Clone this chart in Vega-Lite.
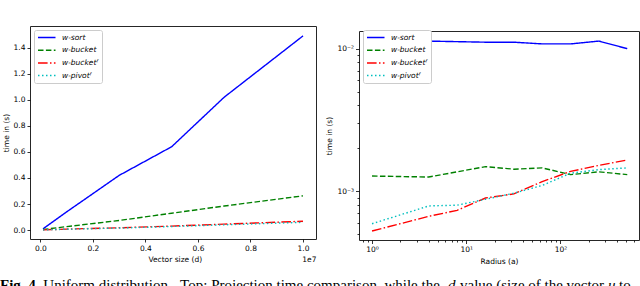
{
  "$schema": "https://vega.github.io/schema/vega-lite/v6.json",
  "padding": {"left": 0, "top": 25, "right": 0, "bottom": 0},
  "background": "#ffffff",
  "datasets": {
    "left": [
      {"d": 100000, "method": "w-sort", "time": 0.01},
      {"d": 1000000, "method": "w-sort", "time": 0.14},
      {"d": 3000000, "method": "w-sort", "time": 0.42},
      {"d": 5000000, "method": "w-sort", "time": 0.64},
      {"d": 7000000, "method": "w-sort", "time": 1.02},
      {"d": 10000000, "method": "w-sort", "time": 1.49},
      {"d": 100000, "method": "w-bucket", "time": 0.005},
      {"d": 1000000, "method": "w-bucket", "time": 0.027},
      {"d": 3000000, "method": "w-bucket", "time": 0.074},
      {"d": 5000000, "method": "w-bucket", "time": 0.13},
      {"d": 7000000, "method": "w-bucket", "time": 0.185},
      {"d": 10000000, "method": "w-bucket", "time": 0.263},
      {"d": 100000, "method": "w-bucketᶠ", "time": 0.002},
      {"d": 1000000, "method": "w-bucketᶠ", "time": 0.008},
      {"d": 3000000, "method": "w-bucketᶠ", "time": 0.018},
      {"d": 5000000, "method": "w-bucketᶠ", "time": 0.031},
      {"d": 7000000, "method": "w-bucketᶠ", "time": 0.046},
      {"d": 10000000, "method": "w-bucketᶠ", "time": 0.068},
      {"d": 100000, "method": "w-pivotᶠ", "time": 0.002},
      {"d": 1000000, "method": "w-pivotᶠ", "time": 0.007},
      {"d": 3000000, "method": "w-pivotᶠ", "time": 0.016},
      {"d": 5000000, "method": "w-pivotᶠ", "time": 0.028},
      {"d": 7000000, "method": "w-pivotᶠ", "time": 0.041},
      {"d": 10000000, "method": "w-pivotᶠ", "time": 0.060}
    ],
    "right": [
      {"a": 1, "method": "w-sort", "time": 0.0107},
      {"a": 2, "method": "w-sort", "time": 0.0113},
      {"a": 4, "method": "w-sort", "time": 0.0113},
      {"a": 8, "method": "w-sort", "time": 0.0112},
      {"a": 16, "method": "w-sort", "time": 0.0111},
      {"a": 32, "method": "w-sort", "time": 0.0111},
      {"a": 64, "method": "w-sort", "time": 0.0108},
      {"a": 128, "method": "w-sort", "time": 0.0108},
      {"a": 256, "method": "w-sort", "time": 0.0113},
      {"a": 512, "method": "w-sort", "time": 0.0100},
      {"a": 1, "method": "w-bucket", "time": 0.00128},
      {"a": 4, "method": "w-bucket", "time": 0.00126},
      {"a": 16, "method": "w-bucket", "time": 0.00149},
      {"a": 32, "method": "w-bucket", "time": 0.00143},
      {"a": 64, "method": "w-bucket", "time": 0.00146},
      {"a": 128, "method": "w-bucket", "time": 0.00131},
      {"a": 256, "method": "w-bucket", "time": 0.00137},
      {"a": 512, "method": "w-bucket", "time": 0.00131},
      {"a": 1, "method": "w-bucketᶠ", "time": 0.000527},
      {"a": 4, "method": "w-bucketᶠ", "time": 0.000668},
      {"a": 8, "method": "w-bucketᶠ", "time": 0.000736},
      {"a": 16, "method": "w-bucketᶠ", "time": 0.000898},
      {"a": 32, "method": "w-bucketᶠ", "time": 0.00096},
      {"a": 64, "method": "w-bucketᶠ", "time": 0.00117},
      {"a": 128, "method": "w-bucketᶠ", "time": 0.00138},
      {"a": 256, "method": "w-bucketᶠ", "time": 0.00152},
      {"a": 512, "method": "w-bucketᶠ", "time": 0.00166},
      {"a": 1, "method": "w-pivotᶠ", "time": 0.000593},
      {"a": 4, "method": "w-pivotᶠ", "time": 0.00079},
      {"a": 8, "method": "w-pivotᶠ", "time": 0.0008},
      {"a": 16, "method": "w-pivotᶠ", "time": 0.00088},
      {"a": 32, "method": "w-pivotᶠ", "time": 0.00097},
      {"a": 64, "method": "w-pivotᶠ", "time": 0.0011},
      {"a": 128, "method": "w-pivotᶠ", "time": 0.00134},
      {"a": 256, "method": "w-pivotᶠ", "time": 0.00142},
      {"a": 512, "method": "w-pivotᶠ", "time": 0.00146}
    ],
    "caption": [
      {"part": 1, "seg": "Fig. 4."},
      {"part": 2, "seg": "Uniform distribution - Top: Projection time comparison, while the"},
      {"part": 3, "seg": "d"},
      {"part": 4, "seg": "value (size of the vector"},
      {"part": 5, "seg": "u"},
      {"part": 6, "seg": "to"}
    ]
  },
  "config": {
    "font": "DejaVu Sans",
    "view": {"stroke": "#262626", "strokeWidth": 1},
    "axis": {
      "domain": false, "grid": false,
      "labelFont": "DejaVu Sans", "labelFontSize": 7.5, "labelColor": "#000000",
      "titleFont": "DejaVu Sans", "titleFontSize": 7.5, "titleFontWeight": "normal", "titleColor": "#000000",
      "tickColor": "#000000", "tickSize": 3, "tickWidth": 0.8, "labelPadding": 2
    },
    "legend": {
      "orient": "top-left", "offset": 4, "padding": 3,
      "fillColor": "#ffffff", "strokeColor": "#cccccc", "cornerRadius": 2,
      "labelFont": "DejaVu Sans", "labelFontStyle": "italic", "labelFontSize": 7.5, "labelColor": "#000000",
      "symbolType": "M-1,0H4", "symbolSize": 49, "symbolStrokeWidth": 1.5,
      "labelOffset": 16, "rowPadding": 4.7, "titlePadding": 0
    }
  },
  "spacing": 12,
  "vconcat": [
    {
      "spacing": 7,
      "resolve": {
        "scale": {"color": "independent", "strokeDash": "independent"},
        "legend": {"color": "independent", "strokeDash": "independent"}
      },
      "hconcat": [
        {
          "width": 286, "height": 213,
          "data": {"name": "left"},
          "mark": {"type": "line", "strokeWidth": 1.4},
          "encoding": {
            "x": {
              "field": "d", "type": "quantitative",
              "scale": {"domain": [-395000, 10495000], "nice": false, "zero": false},
              "axis": {
                "values": [0, 2000000, 4000000, 6000000, 8000000, 10000000],
                "labelExpr": "format(datum.value / 10000000, '.1f')",
                "title": "Vector size (d)\u00a0\u00a0\u00a0\u00a0\u00a0\u00a0\u00a0\u00a0\u00a0\u00a0\u00a0\u00a0\u00a0\u00a0\u00a0\u00a0\u00a0\u00a0\u00a0\u00a0\u00a0\u00a0\u00a0\u00a0\u00a0\u00a0\u00a0\u00a0\u00a0\u00a0\u00a0\u00a0\u00a0\u00a0\u00a0\u00a0\u00a0\u00a0\u00a0\u00a0\u00a0\u00a01e7",
                "titleAnchor": "end", "titlePadding": 4
              }
            },
            "y": {
              "field": "time", "type": "quantitative",
              "scale": {"domain": [-0.068, 1.566], "nice": false, "zero": false},
              "axis": {
                "values": [0, 0.2, 0.4, 0.6, 0.8, 1.0, 1.2, 1.4],
                "format": ".1f", "title": "time in (s)",
                "minExtent": 18, "maxExtent": 18, "titlePadding": 2
              }
            },
            "color": {
              "field": "method", "type": "nominal",
              "scale": {"domain": ["w-sort", "w-bucket", "w-bucketᶠ", "w-pivotᶠ"], "range": ["#0000ff", "#008000", "#ff0000", "#00bfbf"]},
              "legend": {"title": null}
            },
            "strokeDash": {
              "field": "method", "type": "nominal",
              "scale": {"domain": ["w-sort", "w-bucket", "w-bucketᶠ", "w-pivotᶠ"], "range": [[1, 0], [5.5, 2.4], [9.6, 2.4, 1.5, 2.4], [1.5, 2.5]]},
              "legend": {"title": null}
            }
          }
        },
        {
          "spacing": 3,
          "vconcat": [
            {
              "width": 280, "height": 1,
              "view": {"stroke": null},
              "data": {"values": []},
              "mark": "point"
            },
            {
              "width": 280, "height": 209,
              "data": {"name": "right"},
              "mark": {"type": "line", "strokeWidth": 1.4},
              "encoding": {
                "x": {
                  "field": "a", "type": "quantitative",
                  "scale": {"type": "log", "domain": [0.727, 682], "nice": false},
                  "axis": {
                    "values": [0.8, 0.9, 1, 2, 3, 4, 5, 6, 7, 8, 9, 10, 20, 30, 40, 50, 60, 70, 80, 90, 100, 200, 300, 400, 500, 600],
                    "labelExpr": "datum.value == 1 ? '10⁰' : datum.value == 10 ? '10¹' : datum.value == 100 ? '10²' : ''",
                    "tickSize": {"condition": {"test": "datum.value == 1 || datum.value == 10 || datum.value == 100", "value": 3.5}, "value": 2},
                    "title": "Radius (a)", "titlePadding": 4
                  }
                },
                "y": {
                  "field": "time", "type": "quantitative",
                  "scale": {"type": "log", "domain": [0.000456, 0.0133], "nice": false},
                  "axis": {
                    "values": [0.0005, 0.0006, 0.0007, 0.0008, 0.0009, 0.001, 0.002, 0.003, 0.004, 0.005, 0.006, 0.007, 0.008, 0.009, 0.01],
                    "labelExpr": "datum.value == 0.001 ? '10⁻³' : datum.value == 0.01 ? '10⁻²' : ''",
                    "tickSize": {"condition": {"test": "datum.value == 0.001 || datum.value == 0.01", "value": 3.5}, "value": 2},
                    "title": "time in (s)",
                    "minExtent": 24, "maxExtent": 24, "titlePadding": 2
                  }
                },
                "color": {
                  "field": "method", "type": "nominal",
                  "scale": {"domain": ["w-sort", "w-bucket", "w-bucketᶠ", "w-pivotᶠ"], "range": ["#0000ff", "#008000", "#ff0000", "#00bfbf"]},
                  "legend": {"title": null}
                },
                "strokeDash": {
                  "field": "method", "type": "nominal",
                  "scale": {"domain": ["w-sort", "w-bucket", "w-bucketᶠ", "w-pivotᶠ"], "range": [[1, 0], [5.5, 2.4], [9.6, 2.4, 1.5, 2.4], [1.5, 2.5]]},
                  "legend": {"title": null}
                }
              }
            }
          ]
        }
      ]
    },
    {
      "width": 638, "height": 14,
      "view": {"stroke": null},
      "data": {"name": "caption"},
      "layer": [
        {"transform": [{"filter": "datum.part == 1"}], "mark": {"type": "text", "font": "Liberation Serif", "fontSize": 15, "fontWeight": "bold", "align": "left", "baseline": "alphabetic", "x": -30, "y": 13, "color": "#000000"}, "encoding": {"text": {"field": "seg"}}},
        {"transform": [{"filter": "datum.part == 2"}], "mark": {"type": "text", "font": "Liberation Serif", "fontSize": 15, "align": "left", "baseline": "alphabetic", "x": 13.3, "y": 13, "color": "#000000"}, "encoding": {"text": {"field": "seg"}}},
        {"transform": [{"filter": "datum.part == 3"}], "mark": {"type": "text", "font": "Liberation Serif", "fontSize": 15, "fontStyle": "italic", "align": "left", "baseline": "alphabetic", "x": 418, "y": 13, "color": "#000000"}, "encoding": {"text": {"field": "seg"}}},
        {"transform": [{"filter": "datum.part == 4"}], "mark": {"type": "text", "font": "Liberation Serif", "fontSize": 15, "align": "left", "baseline": "alphabetic", "x": 430, "y": 13, "color": "#000000"}, "encoding": {"text": {"field": "seg"}}},
        {"transform": [{"filter": "datum.part == 5"}], "mark": {"type": "text", "font": "Liberation Serif", "fontSize": 15, "fontStyle": "italic", "align": "left", "baseline": "alphabetic", "x": 577.9, "y": 13, "color": "#000000"}, "encoding": {"text": {"field": "seg"}}},
        {"transform": [{"filter": "datum.part == 6"}], "mark": {"type": "text", "font": "Liberation Serif", "fontSize": 15, "align": "left", "baseline": "alphabetic", "x": 589.1, "y": 13, "color": "#000000"}, "encoding": {"text": {"field": "seg"}}}
      ]
    }
  ]
}
